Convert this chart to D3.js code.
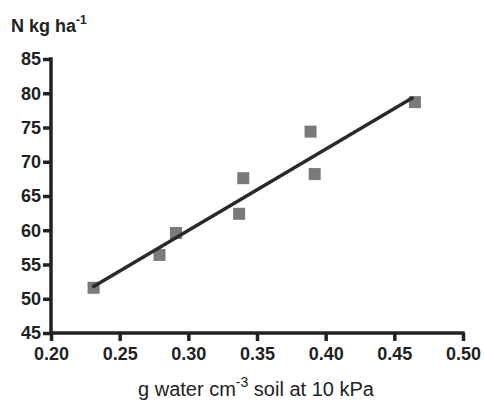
<!DOCTYPE html>
<html>
<head>
<meta charset="utf-8">
<script src="https://cdn.jsdelivr.net/npm/d3@7"></script>
<style>
  body { margin: 0; background: #fff; }
  svg text { font-family: "Liberation Sans", Arial, Helvetica, sans-serif; fill: #222; }
  .axis path, .axis line { stroke: #222; stroke-width: 3.5; }
  .axis text { font-size: 18px; font-weight: bold; fill: #222; }
</style>
</head>
<body>
<svg width="484" height="402"></svg>
<script>
// water content (g/cm3) vs N (kg/ha)
var waterX = [0.231, 0.279, 0.291, 0.340, 0.337, 0.389, 0.392, 0.465];
var nY = [51.6, 56.4, 59.6, 67.6, 62.4, 74.4, 68.2, 78.7];
// fitted line ends
var fitX = [0.231, 0.463];
var fitY = [51.8, 79.3];
var xTicks = [0.20, 0.25, 0.30, 0.35, 0.40, 0.45, 0.50];
var yTicks = [45, 50, 55, 60, 65, 70, 75, 80, 85];

var svg = d3.select('svg');

var x = d3.scaleLinear().domain([0.20, 0.50]).range([51, 463]);
var y = d3.scaleLinear().domain([45, 85]).range([333, 59]);

var xAxis = svg.append('g')
  .attr('class', 'axis')
  .attr('transform', 'translate(0,333)')
  .call(d3.axisBottom(x).tickValues(xTicks).tickFormat(d3.format('.2f')).tickSize(8).tickSizeOuter(0).tickPadding(6));
xAxis.select('.domain').attr('d', 'M49.25,0H' + (x(0.50) + 1.75));

var yAxis = svg.append('g')
  .attr('class', 'axis')
  .attr('transform', 'translate(51,0)')
  .call(d3.axisLeft(y).tickValues(yTicks).tickSize(8).tickSizeOuter(0).tickPadding(2));
yAxis.select('.domain').attr('d', 'M0,' + (y(85) - 1.75) + 'V' + (y(45) + 1.75));

// data points
var pts = waterX.map((d, i) => ({x: d, y: nY[i]}));
svg.selectAll('rect.pt')
  .data(pts)
  .enter().append('rect')
  .attr('class', 'pt')
  .attr('x', d => x(d.x) - 6)
  .attr('y', d => y(d.y) - 6)
  .attr('width', 12)
  .attr('height', 12)
  .attr('fill', '#7a7a7a');

// regression line
var fit = fitX.map((d, i) => [x(d), y(fitY[i])]);
svg.append('path')
  .attr('d', d3.line()(fit))
  .attr('fill', 'none')
  .attr('stroke', '#2a2a2a')
  .attr('stroke-width', 3.5)
  .attr('stroke-linecap', 'round');

// y title
var yt = svg.append('text')
  .attr('x', 11).attr('y', 32)
  .attr('font-size', 18).attr('font-weight', 'bold');
yt.append('tspan').text('N kg ha');
yt.append('tspan').attr('dy', -8).attr('font-size', 12).text('-1');

// x title
var xt = svg.append('text')
  .attr('x', 256).attr('y', 396)
  .attr('text-anchor', 'middle')
  .attr('font-size', 20);
xt.append('tspan').text('g water cm');
xt.append('tspan').attr('dy', -9).attr('font-size', 14).text('-3');
xt.append('tspan').attr('dy', 9).text(' soil at 10 kPa');
</script>
</body>
</html>
